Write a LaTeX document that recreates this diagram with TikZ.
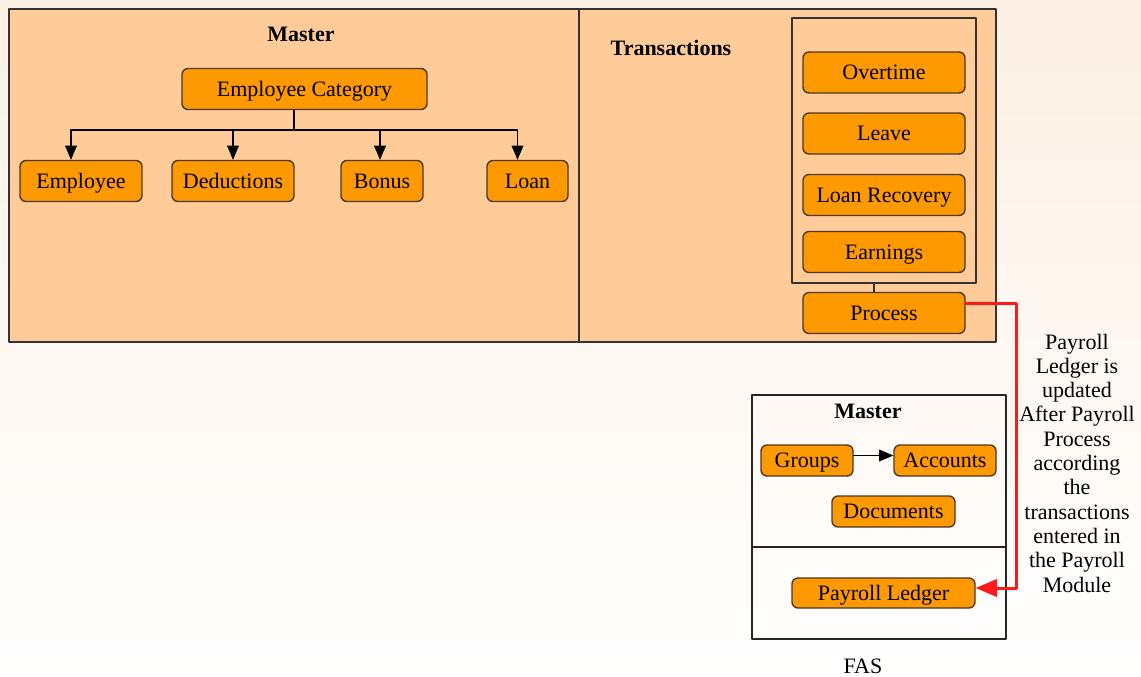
\documentclass[tikz,border=0pt]{standalone}
\usepackage{fontspec}
\setmainfont{Liberation Serif}
\usepackage{tikz}
\usetikzlibrary{arrows}
\definecolor{ffcc99}{rgb}{1.,0.8,0.6}
\definecolor{ff9900}{rgb}{1.,0.6,0.}
\definecolor{fdf0e4}{rgb}{0.992,0.941,0.894}
\definecolor{brdr}{rgb}{0.3,0.22,0.14}
\definecolor{ff1a1a}{rgb}{1.,0.1,0.1}
\tikzstyle{every node}=[font=\fontsize{11}{12.15}\selectfont]
\tikzstyle{box}=[draw=brdr,fill=ff9900,rounded corners=3pt,line width=0.7pt,minimum height=20.5pt,inner sep=0pt,text height=1.9ex,text depth=0.3ex]
\tikzstyle{smallbox}=[box,minimum height=15.5pt]
\tikzstyle{title}=[font=\fontsize{11}{12.15}\selectfont\bfseries]

\begin{document}
\begin{tikzpicture}[line cap=round,line join=round,>=triangle 45,x=0.5pt,y=-0.5pt]
\useasboundingbox (0,0) rectangle (1141,676);
\shade [top color=fdf0e4,bottom color=white] (0,0) rectangle (1141,676);
% payroll module
\draw [line width=1pt,color=black!80,fill=ffcc99] (9,9) rectangle (996,342);
\draw [line width=1pt,color=black!80] (579,9) -- (579,342);
\node [title] (mtitle) at (301,34) {Master};
\node [title] (ttitle) at (671,48) {Transactions};
\node [box,minimum width=122.5pt] (cat) at (304.5,89) {Employee Category};
\node [box,minimum width=61pt] (emp) at (81,181) {Employee};
\node [box,minimum width=61pt] (ded) at (233,181) {Deductions};
\node [box,minimum width=41pt] (bon) at (382,181) {Bonus};
\node [box,minimum width=40.5pt] (loan) at (527.5,181) {Loan};
\coordinate (bus) at (294,130);
\draw [->,line width=0.6pt] (cat.south -| bus) -- (bus) -| ([xshift=-5pt]emp.north);
\draw [->,line width=0.6pt] (bus) -| (ded.north);
\draw [->,line width=0.6pt] (bus) -| ([xshift=-1pt]bon.north);
\draw [->,line width=0.6pt] (bus) -| ([xshift=-5pt]loan.north);
\node [draw=black!80,line width=1pt,minimum width=92pt,minimum height=132.5pt,inner sep=0pt] (txbox) at (884,150.5) {};
\node [box,minimum width=81pt] (ovt) at (884,72.5) {Overtime};
\node [box,minimum width=81pt] (lve) at (884,133.5) {Leave};
\node [box,minimum width=81pt] (lrec) at (884,195) {Loan Recovery};
\node [box,minimum width=81pt] (earn) at (884,252) {Earnings};
\node [box,minimum width=81pt] (proc) at (884,313) {Process};
\draw [line width=0.7pt,color=black!80] ([xshift=-5pt]proc.north) -- ([xshift=-5pt]proc.north |- txbox.south);
% FAS
\draw [line width=0.7pt,color=black!85] (752,395) rectangle (1006,639);
\draw [line width=0.7pt,color=black!85] (752,547) -- (1006,547);
\node [title] (ftitle) at (868,411) {Master};
\node [smallbox,minimum width=46pt] (grp) at (807,460.5) {Groups};
\node [smallbox,minimum width=51pt] (acc) at (945,460.5) {Accounts};
\node [smallbox,minimum width=61.5pt] (doc) at (893.5,511.5) {Documents};
\node [smallbox,minimum width=91.5pt,minimum height=15pt] (ledg) at (883.5,593) {Payroll Ledger};
\draw [->,line width=0.6pt] ([yshift=2.5pt]grp.east) -- ([yshift=2.5pt]acc.west);
\node (fas) at (863,666) {FAS};
\coordinate (bend) at (1016,303);
\draw [->,line width=1.5pt,color=ff1a1a] ([yshift=5pt]proc.east) -- (bend) |- ([yshift=2.5pt]ledg.east);
\node [align=center] (note) at (1077,463) {Payroll\\Ledger is\\updated\\After Payroll\\Process\\according\\the\\transactions\\entered in\\the Payroll\\Module};
\end{tikzpicture}
\end{document}
